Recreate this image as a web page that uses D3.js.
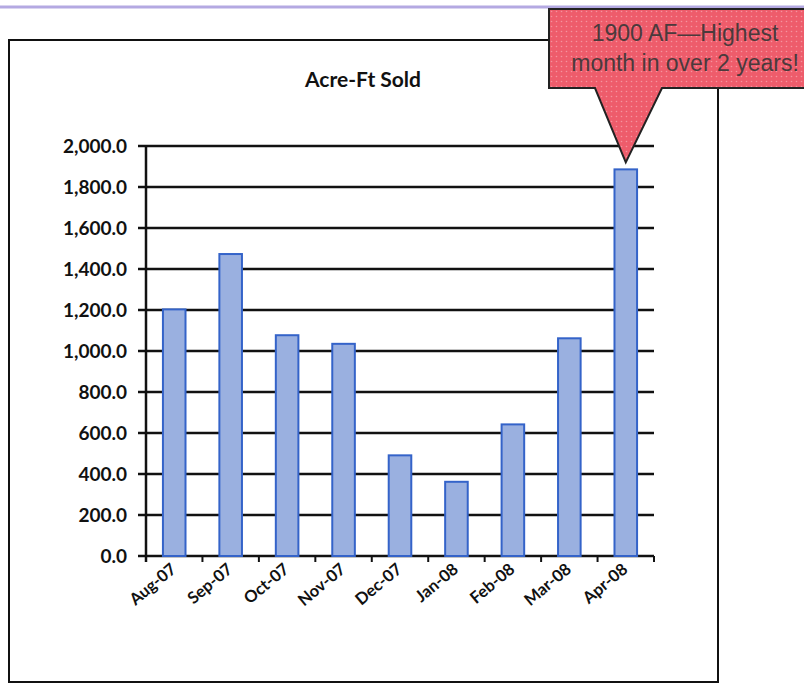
<!DOCTYPE html>
<html>
<head>
<meta charset="utf-8">
<script src="https://cdn.jsdelivr.net/npm/d3@7"></script>
<style>
  body { margin: 0; background: #fff; }
  svg { display: block; }
</style>
</head>
<body>
<div id="chart"></div>
<script>
// data
const months = ['Aug-07', 'Sep-07', 'Oct-07', 'Nov-07', 'Dec-07', 'Jan-08', 'Feb-08', 'Mar-08', 'Apr-08'];
const acreFt = [1203, 1473, 1077, 1035, 491, 362, 642, 1062, 1886];
const yTicks = [0, 200, 400, 600, 800, 1000, 1200, 1400, 1600, 1800, 2000];
const calloutLines = ['1900 AF\u2014Highest', 'month in over 2 years!'];

const width = 804, height = 684;
const plotLeft = 146, plotRight = 654, plotTop = 146, plotBottom = 556;

const svg = d3.select('#chart')
    .append('svg')
    .attr('width', width)
    .attr('height', height);

// dotted texture for the callout
const defs = svg.append('defs');
const pat = defs.append('pattern')
    .attr('id', 'dots')
    .attr('width', 5).attr('height', 5)
    .attr('patternUnits', 'userSpaceOnUse');
pat.append('rect').attr('width', 5).attr('height', 5).attr('fill', '#ee5c6b');
pat.append('circle').attr('cx', 1.5).attr('cy', 1.5).attr('r', 0.8).attr('fill', '#f5949e');

// purple rule at the top of the page
svg.append('line')
    .attr('x1', 0).attr('x2', width)
    .attr('y1', 7).attr('y2', 7)
    .attr('stroke', '#b4a9e2')
    .attr('stroke-width', 3);

// chart frame
svg.append('rect')
    .attr('x', 9).attr('y', 40)
    .attr('width', 709).attr('height', 642)
    .attr('fill', '#fff')
    .attr('stroke', '#111')
    .attr('stroke-width', 2);

svg.append('text')
    .attr('x', 363).attr('y', 87)
    .attr('text-anchor', 'middle')
    .attr('font-family', 'Lato, sans-serif')
    .attr('font-weight', 'bold')
    .attr('font-size', 21)
    .attr('fill', '#111')
    .text('Acre-Ft Sold');

const x = d3.scaleBand()
    .domain(months)
    .range([plotLeft, plotRight])
    .paddingInner(0.6)
    .paddingOuter(0.3);

const y = d3.scaleLinear()
    .domain([0, 2000])
    .range([plotBottom, plotTop]);

// gridlines
svg.append('g')
    .selectAll('line')
    .data(yTicks)
    .join('line')
    .attr('x1', plotLeft - 8).attr('x2', plotRight)
    .attr('y1', d => y(d)).attr('y2', d => y(d))
    .attr('stroke', '#111')
    .attr('stroke-width', 2.4);

// y axis labels
svg.append('g')
    .selectAll('text')
    .data(yTicks)
    .join('text')
    .attr('x', plotLeft - 19)
    .attr('y', d => y(d))
    .attr('dy', '0.36em')
    .attr('text-anchor', 'end')
    .attr('font-family', 'Lato, sans-serif')
    .attr('font-weight', 'bold')
    .attr('font-size', 19)
    .attr('fill', '#111')
    .text(d => d3.format(',.1f')(d));

// y axis line
svg.append('line')
    .attr('x1', plotLeft).attr('x2', plotLeft)
    .attr('y1', plotTop).attr('y2', plotBottom + 6)
    .attr('stroke', '#111')
    .attr('stroke-width', 2.5);

// x ticks at band edges
const edges = months.map(m => x(m) - (x.step() - x.bandwidth()) / 2);
edges.push(plotRight);
svg.append('g')
    .selectAll('line')
    .data(edges)
    .join('line')
    .attr('x1', d => d).attr('x2', d => d)
    .attr('y1', plotBottom).attr('y2', plotBottom + 6)
    .attr('stroke', '#111')
    .attr('stroke-width', 2);

// bars
svg.append('g')
    .selectAll('rect')
    .data(acreFt)
    .join('rect')
    .attr('x', (d, i) => x(months[i]))
    .attr('y', d => y(d))
    .attr('width', x.bandwidth())
    .attr('height', d => plotBottom - y(d))
    .attr('fill', '#9ab0e0')
    .attr('stroke', '#3463c9')
    .attr('stroke-width', 2);

// x labels
svg.append('g')
    .selectAll('text')
    .data(months)
    .join('text')
    .attr('transform', d => `translate(${x(d) + x.bandwidth() / 2 + 3},${plotBottom + 15}) rotate(-40)`)
    .attr('text-anchor', 'end')
    .attr('font-family', 'Lato, sans-serif')
    .attr('font-weight', 'bold')
    .attr('font-size', 16.5)
    .attr('fill', '#111')
    .text(d => d);

// callout pointing at the highest bar
const last = months[months.length - 1];
const tipX = x(last) + x.bandwidth() / 2;
const tipY = y(acreFt[acreFt.length - 1]) - 7;
const boxL = 549, boxR = 822, boxT = 9, boxB = 88;
const calloutPath = [
    [boxL, boxT], [boxR, boxT], [boxR, boxB],
    [662, boxB], [tipX, tipY], [595, boxB], [boxL, boxB]
];
svg.append('path')
    .attr('d', d3.line()(calloutPath) + 'Z')
    .attr('fill', 'url(#dots)')
    .attr('stroke', '#222')
    .attr('stroke-width', 2);

svg.append('g')
    .selectAll('text')
    .data(calloutLines)
    .join('text')
    .attr('x', 685)
    .attr('y', (d, i) => 41 + i * 30)
    .attr('text-anchor', 'middle')
    .attr('font-family', 'Liberation Sans, Arial, sans-serif')
    .attr('font-size', 23)
    .attr('fill', '#4a3a3c')
    .text(d => d);
</script>
</body>
</html>
